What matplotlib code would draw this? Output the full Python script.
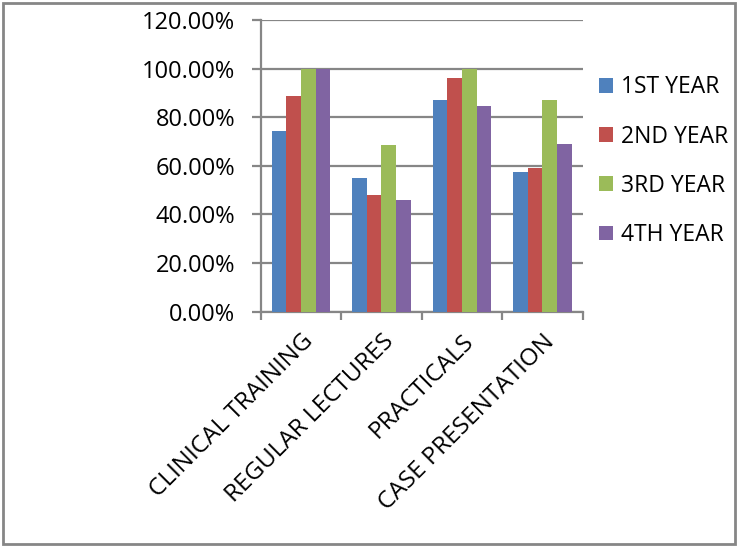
import matplotlib
matplotlib.use("Agg")
import matplotlib.pyplot as plt
import numpy as np
from matplotlib.patches import Rectangle
from matplotlib.ticker import FuncFormatter

categories = ["CLINICAL TRAINING", "REGULAR LECTURES", "PRACTICALS", "CASE PRESENTATION"]
series_names = ["1ST YEAR", "2ND YEAR", "3RD YEAR", "4TH YEAR"]
year1 = [74.2, 55.1, 87.1, 57.3]
year2 = [88.6, 47.9, 96.3, 59.1]
year3 = [100.0, 68.6, 100.0, 87.2]
year4 = [100.0, 46.0, 84.5, 69.0]
colors = ["#4F81BD", "#C0504D", "#9BBB59", "#8064A2"]

plt.rcParams['font.family'] = ['Open Sans', 'DejaVu Sans']
grid_col = "#868686"

fig = plt.figure(figsize=(7.38, 5.47), dpi=100)
ax = fig.add_axes([0.3533, 0.4302, 0.4363, 0.5332])

x = np.arange(len(categories))
bw = 0.182
for i, vals in enumerate([year1, year2, year3, year4]):
    ax.bar(x + (i - 1.5) * bw, vals, width=bw, color=colors[i],
           label=series_names[i], zorder=3)

ax.set_xlim(-0.5, len(categories) - 0.5)
ax.set_ylim(0, 120)
ax.set_yticks(np.arange(0, 121, 20))
ax.yaxis.set_major_formatter(FuncFormatter(lambda v, p: f"{v:.2f}%"))
ax.grid(axis='y', color=grid_col, linewidth=1.6, zorder=0)

# category labels sit between the boundary ticks, like Excel
ax.set_xticks(np.arange(-0.5, len(categories), 1.0))
ax.set_xticklabels([])
ax.set_xticks(x, minor=True)
ax.set_xticklabels(categories, minor=True, rotation=45, ha='right', va='top',
                   rotation_mode='anchor', fontsize=17.5)
ax.tick_params(axis='x', which='minor', length=0, pad=13)
ax.tick_params(axis='x', which='major', length=5.8, width=1.6, color=grid_col)
ax.tick_params(axis='y', length=6.5, width=1.6, color=grid_col, labelsize=17, pad=12)

for side in ['top', 'right']:
    ax.spines[side].set_visible(False)
for side in ['left', 'bottom']:
    ax.spines[side].set_color(grid_col)
    ax.spines[side].set_linewidth(1.6)

ax.legend(loc='upper left', bbox_to_anchor=(1.0, 0.865), frameon=False,
          fontsize=16.5, handlelength=0.6, handleheight=0.6,
          labelspacing=1.1, handletextpad=0.35, borderaxespad=0.3)

fig.patches.append(Rectangle((0.004, 0.006), 0.992, 0.988, transform=fig.transFigure,
                             fill=False, edgecolor=grid_col, linewidth=2))

fig.savefig("out.png", dpi=100)
